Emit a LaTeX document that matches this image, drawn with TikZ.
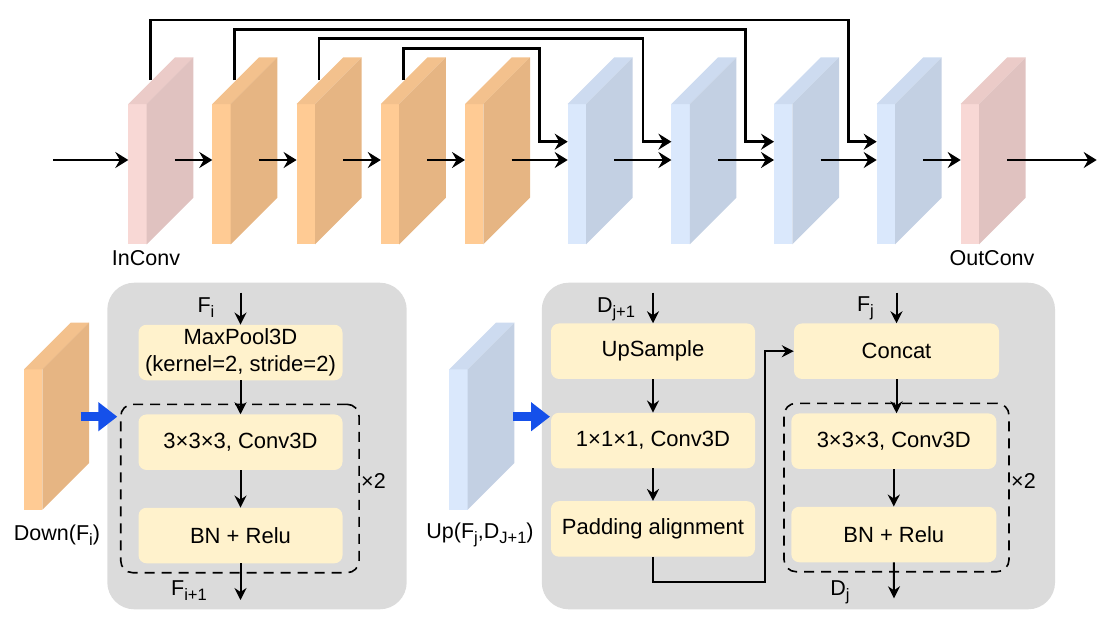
\documentclass[tikz,border=0pt]{standalone}
\usepackage{fontspec}
\setmainfont{Liberation Sans}
\usetikzlibrary{arrows.meta,positioning,calc}
\definecolor{orF}{HTML}{FFCB94}\definecolor{orT}{HTML}{F3C18D}\definecolor{orS}{HTML}{E6B583}
\definecolor{blF}{HTML}{DAE8FC}\definecolor{blT}{HTML}{CDDBF0}\definecolor{blS}{HTML}{C3D0E3}
\definecolor{pkF}{HTML}{F8D8D5}\definecolor{pkT}{HTML}{EBCBC8}\definecolor{pkS}{HTML}{E0C2C0}
\definecolor{boxY}{HTML}{FFF2CC}\definecolor{panelG}{HTML}{DBDBDB}\definecolor{pushB}{HTML}{1550EA}
\newcommand{\lo}[1]{\raisebox{-5pt}{\fontsize{16.5}{17}\selectfont #1}}
\newcommand{\slab}[6]{%
  \node[slabface,fill=#4,anchor=north west] (#1) at (#2,#3) {};
  \fill[#5] (#1.north west)--++(46.6,-46.6)--++(18.4,0)--(#1.north east)--cycle;
  \fill[#6] (#1.north east)--++(46.6,-46.6)--++(0,140.3)--(#1.south east)--cycle;
  \coordinate (#1-in) at ($(#1.north west)+(0,56)$);\coordinate (#1-skip) at ($(#1.north west)+(0,37.7)$);
  \coordinate (#1-out) at ($(#1.north west)+(46.6,56)$);\coordinate (#1-top) at ($(#1.north west)+(22.4,-24)$);}

\begin{document}
\begin{tikzpicture}[x=1pt,y=-1pt,>={Stealth[length=13pt,width=16pt,inset=4.5pt]},
  slabface/.style={minimum width=18.4pt,minimum height=140.3pt,inner sep=0pt,outer sep=0pt},
  flow/.style={->,line width=2.8pt},
  link/.style={-{Stealth[length=12pt,width=12pt,inset=4pt]},line width=2pt},
  box/.style={fill=boxY,rounded corners=8pt,minimum width=204pt,minimum height=55.5pt,inner sep=0pt,align=center,font=\fontsize{22}{26.5}\selectfont},
  panel/.style={fill=panelG,rounded corners=27pt,inner sep=0pt},
  frame/.style={draw,dash pattern=on 10pt off 7pt,line width=1.6pt,rounded corners=12pt,inner sep=0pt},
  push/.style={-{Triangle[length=19pt,width=28pt]},line width=9pt,pushB},
  lbl/.style={font=\fontsize{21.5}{24}\selectfont,inner sep=0pt}]
\useasboundingbox (0,0) rectangle (1109,622);
\slab{inc}{128.3}{104}{pkF}{pkT}{pkS}
\slab{d1}{212.3}{104}{orF}{orT}{orS}\slab{d2}{296.6}{104}{orF}{orT}{orS}
\slab{d3}{380.8}{104}{orF}{orT}{orS}\slab{d4}{465}{104}{orF}{orT}{orS}
\slab{u1}{567.7}{104}{blF}{blT}{blS}\slab{u2}{671.4}{104}{blF}{blT}{blS}
\slab{u3}{774}{104}{blF}{blT}{blS}\slab{u4}{876.7}{104}{blF}{blT}{blS}
\slab{outc}{960.7}{104}{pkF}{pkT}{pkS}
\coordinate (src) at (53.3,160);\coordinate (dst) at (1096.7,160);
\draw[flow] (src)--(inc-in);\draw[flow] (outc-out)--(dst);
\foreach \a/\b in {inc/d1,d1/d2,d2/d3,d3/d4,d4/u1,u1/u2,u2/u3,u3/u4,u4/outc} \draw[flow] (\a-out)--(\b-in);
\foreach \a/\b/\h in {inc/u4/60,d1/u3/50.7,d2/u2/41.7,d3/u1/31.7} \draw[flow] (\a-top)--++(0,-\h)-|($(\b-skip)+(-28.5,0)$)--(\b-skip);
\node[lbl] (inlbl) at (146,258) {InConv};\node[lbl] (outlbl) at (992,258) {OutConv};

\node[panel,minimum width=299.4pt,minimum height=326.6pt] (pl) at (257,446) {};
\slab{dn}{24}{369.3}{orF}{orT}{orS}
\node[lbl] (dnlbl) at (57,535) {Down(F\lo{i})};
\node[frame,minimum width=238.3pt,minimum height=168.4pt] (rl) at (239.9,488.5) {};
\node[box] (mp) at (240.5,352.5) {MaxPool3D\\(kernel=2, stride=2)};
\node[box] (cl) at (240.5,442.2) {3×3×3, Conv3D};
\node[box] (bl) at (240.5,535.5) {BN + Relu};
\node[lbl,anchor=west] (rpl) at (361,481) {×2};
\coordinate (fi) at (240.5,292.7);\coordinate (fo) at (240.5,600);
\draw[link] (fi)--(mp);\draw[link] (mp)--(cl);\draw[link] (cl)--(bl);\draw[link] (bl)--(fo);
\node[lbl] (filbl) at (206,308) {F\lo{i}};\node[lbl] (folbl) at (189,591) {F\lo{i+1}};
\coordinate (dn-p) at (80.7,416.7);\coordinate (pl-p) at (117.3,416.7);
\draw[push] (dn-p)--(pl-p);

\node[panel,minimum width=513.3pt,minimum height=326.6pt] (pr) at (798.4,446) {};
\slab{up}{449.3}{369.3}{blF}{blT}{blS}
\node[lbl] (uplbl) at (480,535) {Up(F\lo{j},D\lo{J+1})};
\node[frame,minimum width=225pt,minimum height=168.4pt] (rr) at (896.5,487.5) {};
\node[box] (us) at (653,351.2) {UpSample};
\node[box] (c1) at (653,440.5) {1×1×1, Conv3D};
\node[box] (pad) at (653,528.9) {Padding alignment};
\node[box,minimum width=205pt] (cat) at (896.5,351.2) {Concat};
\node[box,minimum width=205pt] (c3) at (893.8,441.2) {3×3×3, Conv3D};
\node[box,minimum width=205pt] (br) at (893.8,534.5) {BN + Relu};
\node[lbl,anchor=west] (rpr) at (1011,481) {×2};
\coordinate (dj1) at (653,292.7);\coordinate (fj) at (896.5,292.7);\coordinate (dj) at (894,598.3);
\draw[link] (dj1)--(us);\draw[link] (us)--(c1);\draw[link] (c1)--(pad);
\draw[link] (pad.south)--++(0,25)-|($(cat.west)+(-29,0)$)--(cat.west);
\draw[link] (fj)--(cat);\draw[link] (cat.south)--(cat.south|-c3.north);\draw[link] (c3)--(br);\draw[link] (br)--(dj);
\node[lbl] (djlbl) at (616,309) {D\lo{j+1}};\node[lbl] (fjlbl) at (865.5,308) {F\lo{j}};
\node[lbl] (dlbl) at (840,592) {D\lo{j}};
\coordinate (up-p) at (513.3,416.7);\coordinate (pr-p) at (550,416.7);
\draw[push] (up-p)--(pr-p);
\end{tikzpicture}
\end{document}
